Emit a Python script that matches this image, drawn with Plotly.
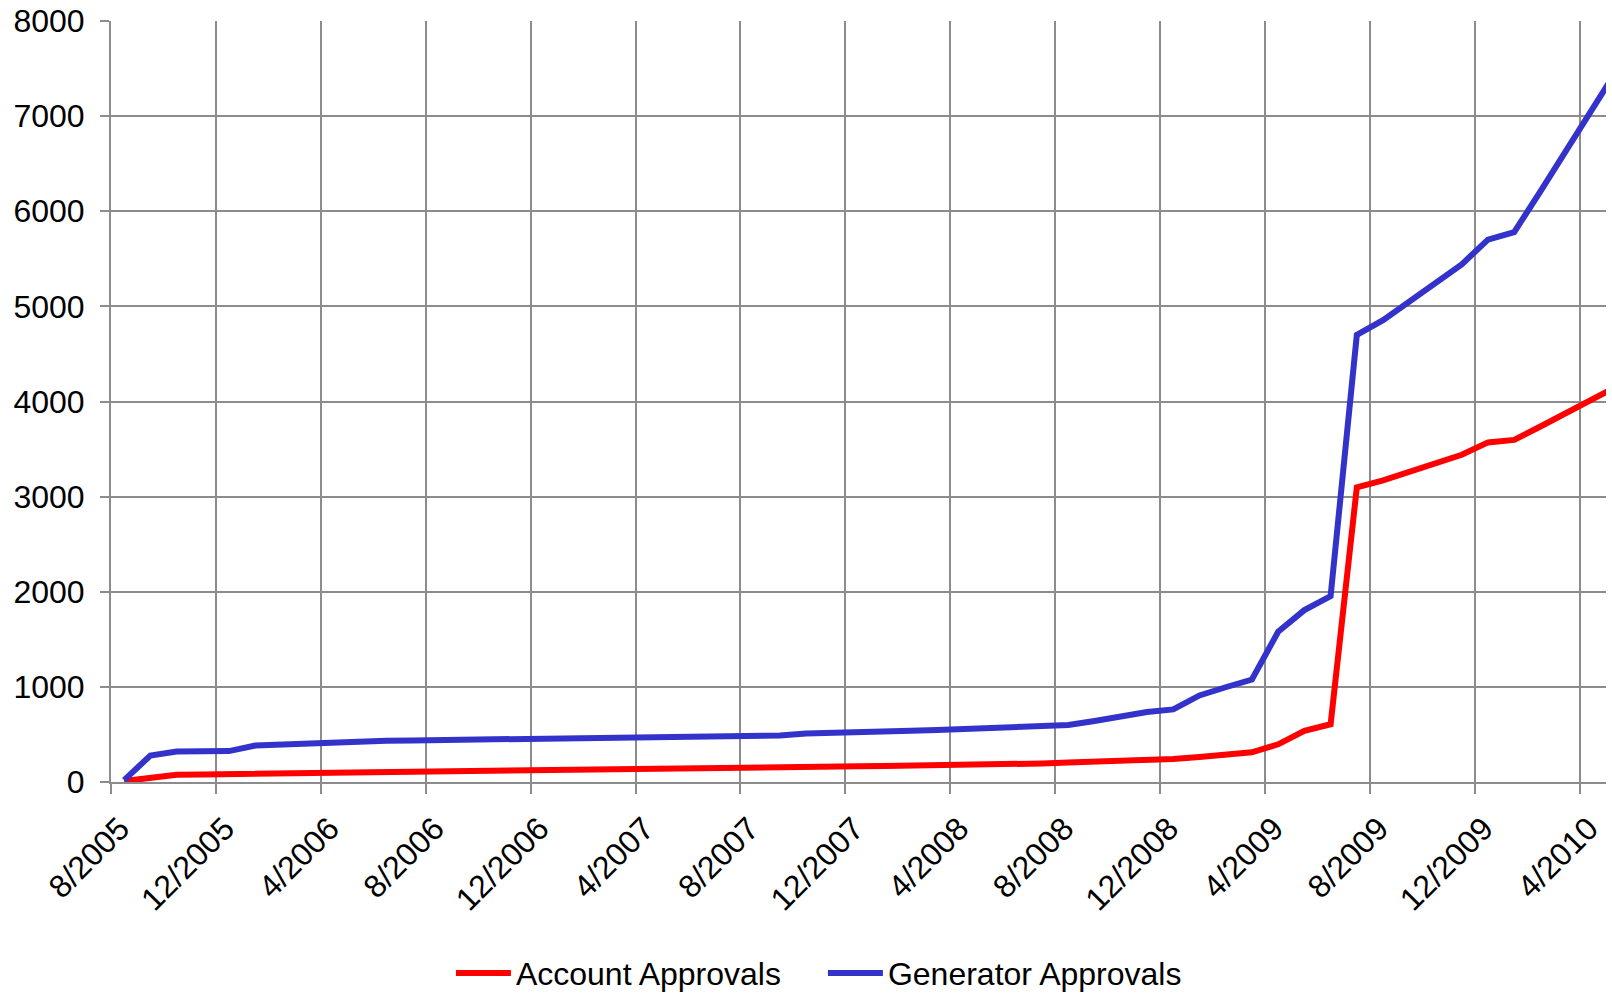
import plotly.graph_objects as go

months = [
    "2005-08", "2005-09", "2005-10", "2005-11", "2005-12",
    "2006-01", "2006-02", "2006-03", "2006-04", "2006-05", "2006-06",
    "2006-07", "2006-08", "2006-09", "2006-10", "2006-11", "2006-12",
    "2007-01", "2007-02", "2007-03", "2007-04", "2007-05", "2007-06",
    "2007-07", "2007-08", "2007-09", "2007-10", "2007-11", "2007-12",
    "2008-01", "2008-02", "2008-03", "2008-04", "2008-05", "2008-06",
    "2008-07", "2008-08", "2008-09", "2008-10", "2008-11", "2008-12",
    "2009-01", "2009-02", "2009-03", "2009-04", "2009-05", "2009-06",
    "2009-07", "2009-08", "2009-09", "2009-10", "2009-11", "2009-12",
    "2010-01", "2010-02", "2010-03", "2010-04", "2010-05",
]

account_approvals = [
    10, 45, 75, 80, 84,
    88, 92, 96, 100, 103, 106,
    110, 113, 117, 121, 125, 128,
    131, 134, 137, 140, 143, 146,
    149, 152, 155, 158, 162, 165,
    168, 171, 174, 177, 180, 187,
    195, 205, 212, 220, 228, 243,
    263, 281, 312, 396, 537, 607,
    3098, 3170, 3260, 3350, 3440, 3570,
    3596, 3737, 3880, 4030, 4170,
]

generator_approvals = [
    20, 278, 320, 323, 325,
    383, 394, 412, 426, 430, 433,
    437, 440, 442, 444, 447, 458,
    466, 467, 469, 470, 474, 479,
    482, 486, 489, 510, 514, 521,
    532, 539, 546, 556, 567, 574,
    585, 599, 641, 690, 735, 763,
    910, 996, 1077, 1579, 1807, 1954,
    4700, 4855, 5056, 5249, 5442, 5702,
    5780, 6210, 6645, 7084, 7520,
]

tick_labels = [
    "8/2005", "12/2005", "4/2006", "8/2006", "12/2006", "4/2007", "8/2007",
    "12/2007", "4/2008", "8/2008", "12/2008", "4/2009", "8/2009", "12/2009",
    "4/2010",
]
tick_months = [
    "2005-08", "2005-12", "2006-04", "2006-08", "2006-12", "2007-04", "2007-08",
    "2007-12", "2008-04", "2008-08", "2008-12", "2009-04", "2009-08", "2009-12",
    "2010-04",
]

# month-slot axis (points in the middle of each monthly slot)
x_pos = [i + 0.5 for i in range(len(months))]
tick_pos = [months.index(m) for m in tick_months]

FONT = "Liberation Sans, Arial, sans-serif"
GRID = "#8c8c8c"
FS = 32

fig = go.Figure()
fig.add_trace(go.Scatter(
    x=x_pos, y=account_approvals, mode="lines", name="Account Approvals",
    line=dict(color="#ff0000", width=6),
    customdata=months,
))
fig.add_trace(go.Scatter(
    x=x_pos, y=generator_approvals, mode="lines", name="Generator Approvals",
    line=dict(color="#3333cc", width=6),
    customdata=months,
))

fig.update_layout(
    width=1612, height=993,
    margin=dict(l=111, r=6, t=21, b=211, autoexpand=False),
    paper_bgcolor="white", plot_bgcolor="white",
    font=dict(family=FONT, size=FS, color="black"),
    showlegend=True,
    legend=dict(
        orientation="h", xref="container", yref="container",
        x=0.5105, y=0.02, xanchor="center", yanchor="middle",
        font=dict(family=FONT, size=FS, color="black"),
        entrywidth=302, entrywidthmode="pixels",
        itemwidth=55,
    ),
    xaxis=dict(
        range=[0, 57],
        tickmode="array", tickvals=tick_pos, ticktext=tick_labels,
        tickangle=-45,
        showgrid=True, gridcolor=GRID, gridwidth=2,
        showline=True, linecolor=GRID, linewidth=2,
        ticks="outside", ticklen=10, tickwidth=2, tickcolor=GRID,
        zeroline=False, automargin=False,
        tickfont=dict(family=FONT, size=FS, color="black"),
        ticklabelshift=9, ticklabelstandoff=3,
    ),
    yaxis=dict(
        range=[0, 8000], dtick=1000,
        showgrid=True, gridcolor=GRID, gridwidth=2,
        showline=True, linecolor=GRID, linewidth=2,
        ticks="outside", ticklen=9, tickwidth=2, tickcolor=GRID,
        zeroline=False, automargin=False,
        tickfont=dict(family=FONT, size=FS, color="black"),
        ticklabelstandoff=9,
    ),
)

fig.write_html(
    "out.html",
    config={"displayModeBar": False},
    post_script="document.body.style.margin='0';document.body.style.overflow='hidden';",
)
